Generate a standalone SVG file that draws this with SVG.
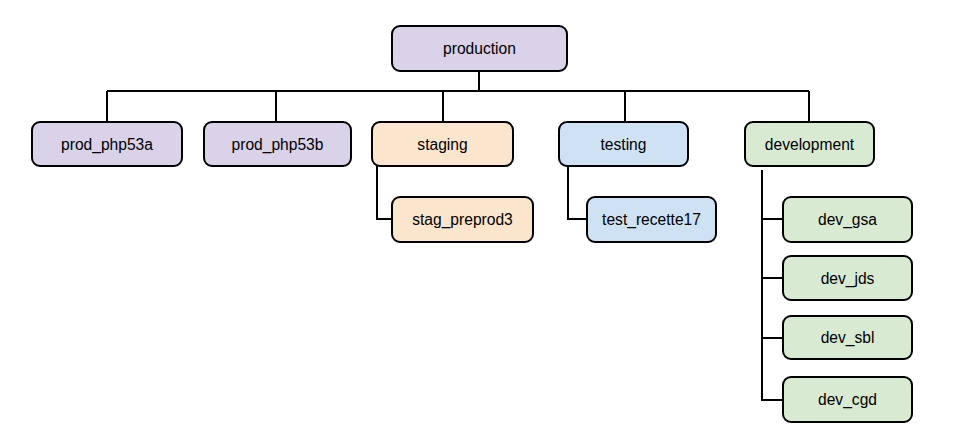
<svg xmlns="http://www.w3.org/2000/svg" width="957" height="438" viewBox="0 0 957 438">
<style>
.n{stroke:#000;stroke-width:2}
.p{fill:#d9d2e9}.o{fill:#fce5cd}.b{fill:#cfe2f3}.g{fill:#d9ead3}
text{font-family:"Liberation Sans",Arial,sans-serif;font-size:15.6px;fill:#000;text-anchor:middle;dominant-baseline:central}
.c{fill:none;stroke:#000;stroke-width:2}
</style>
<rect width="957" height="438" fill="#fff"/>
<g id="connectors" class="c">
<path d="M479 71V91M107 91H809M107 91V122M276 91V122M443 91V122M625 91V122M809 91V122"/>
<path d="M377 166V219H392"/>
<path d="M568 166V219H587"/>
<path d="M762 170V400H783M762 219H783M762 278H783M762 338H783"/>
</g>
<g id="production"><rect class="n p" x="392" y="26" width="175" height="45" rx="8"/><text x="479.5" y="48.5">production</text></g>
<g id="prod_php53a"><rect class="n p" x="32" y="122" width="150" height="44" rx="8"/><text x="107" y="144">prod_php53a</text></g>
<g id="prod_php53b"><rect class="n p" x="204" y="122" width="147" height="44" rx="8"/><text x="277.5" y="144">prod_php53b</text></g>
<g id="staging"><rect class="n o" x="372" y="122" width="141" height="44" rx="8"/><text x="442.5" y="144">staging</text></g>
<g id="stag_preprod3"><rect class="n o" x="392" y="197" width="141" height="45" rx="8"/><text x="462.5" y="219.5">stag_preprod3</text></g>
<g id="testing"><rect class="n b" x="559" y="122" width="129" height="44" rx="8"/><text x="623.5" y="144">testing</text></g>
<g id="test_recette17"><rect class="n b" x="587" y="197" width="129" height="45" rx="8"/><text x="651.5" y="219.5">test_recette17</text></g>
<g id="development"><rect class="n g" x="745" y="122" width="129" height="44" rx="8"/><text x="809.5" y="144">development</text></g>
<g id="dev_gsa"><rect class="n g" x="783" y="197" width="129" height="45" rx="8"/><text x="847.5" y="219.5">dev_gsa</text></g>
<g id="dev_jds"><rect class="n g" x="783" y="256" width="129" height="44" rx="8"/><text x="847.5" y="278">dev_jds</text></g>
<g id="dev_sbl"><rect class="n g" x="783" y="316" width="129" height="43" rx="8"/><text x="847.5" y="337.5">dev_sbl</text></g>
<g id="dev_cgd"><rect class="n g" x="783" y="377" width="129" height="45" rx="8"/><text x="847.5" y="399.5">dev_cgd</text></g>
</svg>
